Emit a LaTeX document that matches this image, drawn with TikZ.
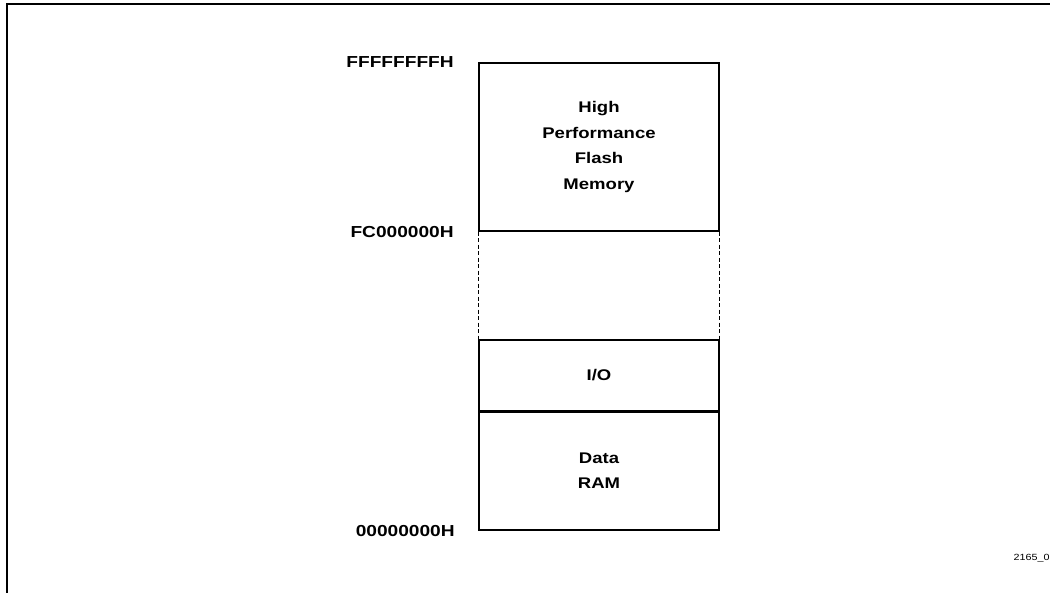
\documentclass[tikz,border=0pt]{standalone}
\usepackage{fontspec}
\setmainfont[FakeStretch=1.2]{Liberation Sans}
\usetikzlibrary{positioning}
\begin{document}
\begin{tikzpicture}[x=1bp, y=-1bp, line width=1.3bp,
  region/.style={draw, minimum width=240bp, inner sep=0pt, align=center,
    font=\bfseries\fontsize{15.5}{25.5}\selectfont},
  addr/.style={inner sep=0pt, font=\bfseries\fontsize{16}{19}\selectfont}]
  \useasboundingbox (0,0) rectangle (1050,593);
  \clip (0,0) rectangle (1050,593);
  \draw[line width=2bp] (6.5,610) -- (6.5,4.5) -- (1070,4.5);
  \node[region, minimum height=168bp] (flash) at (599,147) {High\\Performance\\Flash\\Memory};
  \node[region, minimum height=71bp] (io) at (599,375.5) {I/O};
  \node[region, minimum height=119bp] (ram) at (599,470.5) {Data\\RAM};
  \draw[line width=2bp] (io.south west) -- (io.south east);
  \draw[line width=1.6bp, dash pattern=on 4bp off 2.5bp] (flash.south west) -- (io.north west);
  \draw[line width=1.6bp, dash pattern=on 4bp off 2.5bp] (flash.south east) -- (io.north east);
  \node[addr, left=24bp of flash.north west] (top) {FFFFFFFFH};
  \node[addr, left=24bp of flash.south west] (fc) {FC000000H};
  \node[addr, left=23bp of ram.south west] (zero) {00000000H};
  \node[anchor=west, inner sep=0pt, font=\fontsize{9}{11}\selectfont] (fig) at (1013,558) {2165\_03};
\end{tikzpicture}
\end{document}
